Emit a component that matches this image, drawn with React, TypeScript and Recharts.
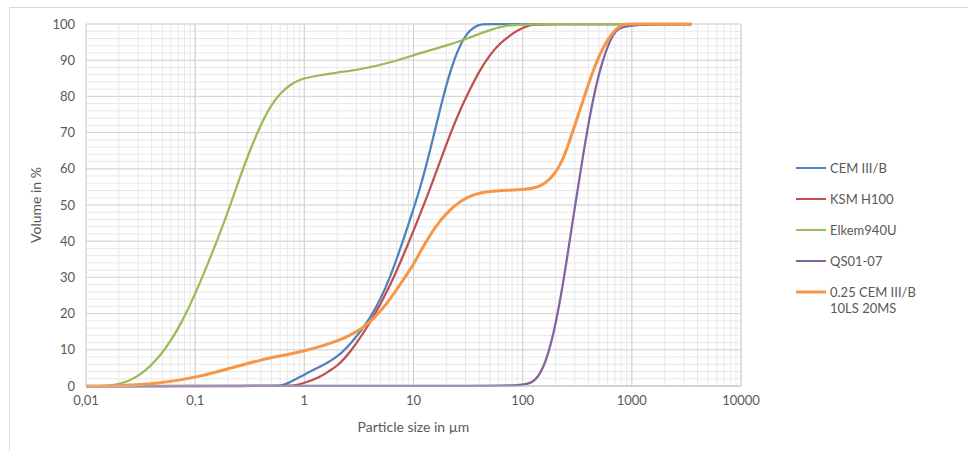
import React from "react";
import {
  CartesianGrid,
  Label,
  Legend,
  Line,
  LineChart,
  ReferenceLine,
  XAxis,
  YAxis,
} from "recharts";

// particle size (µm) and cumulative volume (%)
const cemX = [0.01, 0.5, 0.6, 0.7, 1, 1.5, 2, 2.6, 4, 6.1, 9.3, 11.5, 14.2, 17.5, 21.6, 26.7, 33, 40, 45, 100, 3500];
const cemY = [0, 0, 0, 0.6, 3.2, 5.8, 8, 11.3, 18.2, 29.3, 46, 54.5, 65, 76.5, 87, 94.5, 98.6, 99.9, 100, 100, 100];

const ksmX = [0.01, 0.7, 0.8, 1, 1.4, 1.7, 2, 2.6, 4, 6.1, 9.3, 11.5, 14.2, 17.5, 21.6, 26.7, 33, 40, 50, 62, 80, 94, 116, 130, 3500];
const ksmY = [0, 0, 0.1, 0.8, 2.5, 4.2, 5.5, 9, 17.3, 27.4, 40.5, 47.5, 54.5, 62, 69.5, 76.3, 82, 87, 91.5, 94.7, 97.3, 98.6, 99.7, 100, 100];

const elkemX = [0.01, 0.015, 0.02, 0.031, 0.048, 0.073, 0.111, 0.169, 0.208, 0.258, 0.318, 0.393, 0.485, 0.6, 0.74, 0.91, 1.3, 2, 3.2, 6, 11.5, 20, 30, 50, 70, 100, 3500];
const elkemY = [0, 0, 0.3, 2.6, 8.1, 16.4, 28.4, 42.2, 49.6, 57.9, 65.2, 71.7, 77.2, 80.9, 83.2, 84.8, 85.7, 86.6, 87.4, 89.2, 92, 94, 95.8, 98.4, 99.6, 100, 100];

const qsX = [0.01, 50, 94, 125, 154, 191, 236, 291, 359, 443, 548, 676, 807, 3500];
const qsY = [0, 0, 0.2, 0.7, 4.4, 13.6, 28.4, 46.8, 64.3, 80, 91, 97.5, 100, 100];

const mixX = [0.01, 0.02, 0.048, 0.111, 0.208, 0.393, 0.74, 1.05, 1.4, 1.7, 2.6, 4, 6, 7.5, 10, 11.5, 14.2, 17.5, 21.6, 26.7, 33, 40, 50, 94, 144, 191, 236, 291, 359, 443, 548, 676, 807, 850, 3500];
const mixY = [0, 0, 0.7, 2.6, 4.9, 7.2, 8.8, 9.9, 10.9, 11.7, 13.7, 17.3, 23.5, 28, 33.5, 37, 41.8, 45.7, 48.7, 51, 52.5, 53.3, 53.8, 54.2, 54.7, 57.9, 62.5, 70.8, 79, 87.4, 93.8, 98, 99.8, 100, 100];

const seriesNames = ["CEM III/B", "KSM H100", "Elkem940U", "QS01-07", "0.25 CEM III/B 10LS 20MS"];
const seriesColors = ["#4f81bd", "#c0504d", "#9bbb59", "#8064a2", "#f79646"];

const majorX = [0.01, 0.1, 1, 10, 100, 1000, 10000];
const majorXLabels = ["0,01", "0,1", "1", "10", "100", "1000", "10000"];
const majorY = [0, 10, 20, 30, 40, 50, 60, 70, 80, 90, 100];

// minor grid positions: 1..9 in each decade, every 2 % on y
const minorX: number[] = [];
majorX.slice(0, -1).forEach((d) => {
  for (let k = 1; k < 10; k++) minorX.push(+(d * k).toPrecision(3));
});
minorX.push(10000);
const minorY: number[] = [];
for (let v = 0; v <= 100; v += 2) minorY.push(v);

const toPoints = (xs: number[], ys: number[]) => xs.map((x, i) => ({ x, y: ys[i] }));
const series = [
  toPoints(cemX, cemY),
  toPoints(ksmX, ksmY),
  toPoints(elkemX, elkemY),
  toPoints(qsX, qsY),
  toPoints(mixX, mixY),
];

const FONT = "Lato, 'Open Sans', sans-serif";
const TEXT = "#595959";

const LegendBox = () => (
  <div style={{ fontFamily: FONT, fontSize: 13, color: TEXT }}>
    {seriesNames.map((name, i) => (
      <div key={name} style={{ display: "flex", alignItems: "flex-start", height: 31 }}>
        <svg width={30} height={16} style={{ flex: "none" }}>
          <line x1={0} x2={30} y1={8} y2={8} stroke={seriesColors[i]} strokeWidth={i === 4 ? 3 : 2} />
        </svg>
        <span style={{ marginLeft: 4, lineHeight: "16px", width: 100 }}>{name}</span>
      </div>
    ))}
  </div>
);

export default function App() {
  return (
    <div style={{ position: "absolute", left: 0, top: 0, width: 968, height: 451, background: "#fff" }}>
      <div
        style={{
          position: "absolute",
          left: 9,
          top: 7,
          width: 959,
          height: 444,
          borderTop: "1px solid #d9d9d9",
          borderLeft: "1px solid #d9d9d9",
        }}
      />
      <div style={{ position: "absolute", left: 0, top: 0 }}>
        <LineChart width={968} height={451} margin={{ top: 24, right: 227, left: 0, bottom: 0 }}>
          <CartesianGrid stroke="#e8e8e8" strokeWidth={1} />
          {majorX.map((v) => (
            <ReferenceLine key={"vx" + v} x={v} stroke="#cfcfcf" strokeWidth={1} />
          ))}
          {majorY.map((v) => (
            <ReferenceLine key={"hy" + v} y={v} stroke="#d6d6d6" strokeWidth={1} />
          ))}
          <XAxis
            dataKey="x"
            type="number"
            scale="log"
            domain={[0.01, 10000]}
            ticks={minorX}
            interval={0}
            allowDataOverflow
            height={65}
            tickLine={false}
            tickSize={0}
            tickMargin={10}
            axisLine={{ stroke: "#bfbfbf" }}
            tick={{ fill: TEXT, fontSize: 13, fontFamily: FONT }}
            tickFormatter={(v: number) => {
              const i = majorX.indexOf(v);
              return i >= 0 ? majorXLabels[i] : "";
            }}
          >
            <Label
              value="Particle size in µm"
              position="insideBottom"
              offset={19}
              style={{ fill: TEXT, fontSize: 14, fontFamily: FONT }}
            />
          </XAxis>
          <YAxis
            type="number"
            domain={[0, 100]}
            ticks={minorY}
            interval={0}
            width={86}
            tickLine={false}
            axisLine={false}
            tickSize={0}
            tickMargin={11}
            tick={{ fill: TEXT, fontSize: 13, fontFamily: FONT }}
            tickFormatter={(v: number) => (v % 10 === 0 ? String(v) : "")}
          >
            <Label
              value="Volume in %"
              position="insideLeft"
              angle={-90}
              offset={36}
              style={{ fill: TEXT, fontSize: 14, fontFamily: FONT, textAnchor: "middle" }}
            />
          </YAxis>
          {series.map((pts, i) => (
            <Line
              key={seriesNames[i]}
              data={pts}
              dataKey="y"
              name={seriesNames[i]}
              type="basis"
              stroke={seriesColors[i]}
              strokeWidth={i === 4 ? 3 : 2.25}
              dot={false}
              isAnimationActive={false}
            />
          ))}
          <Legend
            layout="vertical"
            align="center"
            verticalAlign="middle"
            content={() => <LegendBox />}
            wrapperStyle={{ left: 796, top: 160, width: 170 }}
          />
        </LineChart>
      </div>
    </div>
  );
}
